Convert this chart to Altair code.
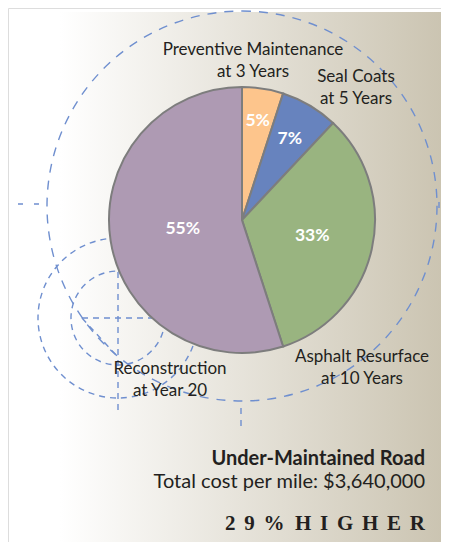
import altair as alt
import pandas as pd
import math

# ---- data ----
categories = ["Preventive Maintenance", "Seal Coats", "Asphalt Resurface", "Reconstruction"]
shares = [5, 7, 33, 55]
pct_labels = ["5%", "7%", "33%", "55%"]
cat_labels = ["Preventive Maintenance\nat 3 Years", "Seal Coats\nat 5 Years",
              "Asphalt Resurface\nat 10 Years", "Reconstruction\nat Year 20"]
SP = " \u2006"
title_lines = ["Under-Maintained Road", "Total cost per mile: $3,640,000",
               "2" + SP + "9" + SP + "%\u2002" + SP.join("HIGHER")]

# ---- style ----
colors = ["#fdc58c", "#6783be", "#99b480", "#ae9ab3"]
pct_radius = [100, 94, 72, 60]
label_pos = [(245, 47), (348, 74), (354, 354), (162, 366)]  # chart coords of first-line baseline
W, H = 433, 534
CX, CY, R = 234, 212, 133
DASH = "#6f8fcf"
FONT = "Lato"
TXT = "#231f20"

df = pd.DataFrame({"category": categories, "share": shares, "pct": pct_labels,
                   "idx": list(range(len(categories))), "lr": pct_radius})
one = pd.DataFrame({"a": [0]})
total = sum(shares)

bg = alt.Chart(one).mark_rect(
    color=alt.Gradient(gradient="linear",
                       stops=[alt.GradientStop(offset=0, color="#ffffff"),
                              alt.GradientStop(offset=1, color="#cac3b0")],
                       x1=0, x2=1, y1=0, y2=0)
).encode(x=alt.value(52), x2=alt.value(441), y=alt.value(4), y2=alt.value(542))

def circle(cx, cy, r, dash):
    return alt.Chart(one).mark_arc(theta=0, theta2=2 * math.pi, radius=r, fillOpacity=0,
                                   stroke=DASH, strokeWidth=1.4, strokeDash=dash
                                   ).encode(x=alt.value(cx), y=alt.value(cy))

def seg(x1, y1, x2, y2, dash):
    return alt.Chart(one).mark_rule(stroke=DASH, strokeWidth=1.4, strokeDash=dash).encode(
        x=alt.value(x1), y=alt.value(y1), x2=alt.value(x2), y2=alt.value(y2))

decor = [
    circle(234, 198, 195, [9, 8]),
    circle(110, 310, 80, [6, 5]),
    circle(110, 310, 47, [6, 5]),
    seg(110, 264, 110, 405, [6, 5]),
    seg(74, 310, 157, 310, [6, 5]),
    seg(74, 310, 108, 347, [6, 5]),
    seg(10, 196, 31, 196, [5, 11]),
    seg(233, 400, 233, 421, [6, 6]),
    seg(431, 194, 431, 200, [6, 6]),
]

theta_scale = alt.Scale(domain=[0, total], range=[0, 2 * math.pi])

pie = alt.Chart(df).mark_arc(radius=R, stroke="#7d7d7d", strokeWidth=2).transform_window(
    cum="sum(share)", sort=[alt.SortField("idx")]
).transform_calculate(start="datum.cum - datum.share").encode(
    theta=alt.Theta("start:Q", scale=theta_scale, stack=None),
    theta2="cum:Q",
    color=alt.Color("category:N", scale=alt.Scale(domain=categories, range=colors), legend=None),
    x=alt.value(CX), y=alt.value(CY),
)

pct = alt.Chart(df).mark_text(font=FONT, fontSize=17.5, fontWeight="bold", color="white",
                              baseline="middle", align="center").transform_window(
    cum="sum(share)", sort=[alt.SortField("idx")]
).transform_calculate(mid="datum.cum - datum.share / 2").encode(
    theta=alt.Theta("mid:Q", scale=theta_scale, stack=None),
    radius=alt.Radius("lr:Q", scale=None),
    text="pct:N",
    x=alt.value(CX), y=alt.value(CY),
)

labels = []
for txt, (lx, ly) in zip(cat_labels, label_pos):
    labels.append(alt.Chart(one).mark_text(font=FONT, fontSize=17, color=TXT, align="center",
                                           baseline="alphabetic", lineBreak="\n", lineHeight=22,
                                           text=txt).encode(x=alt.value(lx), y=alt.value(ly)))

RX = 417
bottom = [
    alt.Chart(one).mark_text(font=FONT, fontSize=20, fontWeight="bold", color=TXT, align="right",
                             baseline="alphabetic", text=title_lines[0]).encode(x=alt.value(RX), y=alt.value(457)),
    alt.Chart(one).mark_text(font=FONT, fontSize=20, color=TXT, align="right",
                             baseline="alphabetic", text=title_lines[1]).encode(x=alt.value(RX), y=alt.value(480)),
    alt.Chart(one).mark_text(font="Liberation Serif", fontSize=21, fontWeight="bold", color=TXT, align="right",
                             baseline="alphabetic", text=title_lines[2]).encode(x=alt.value(RX), y=alt.value(522)),
]

chart = alt.layer(bg, *decor, pie, pct, *labels, *bottom).properties(
    width=W, height=H, padding=0, autosize="none"
).configure_view(strokeWidth=0).configure(background="white")

chart.save("out.html", embed_options={"renderer": "svg", "actions": False})
